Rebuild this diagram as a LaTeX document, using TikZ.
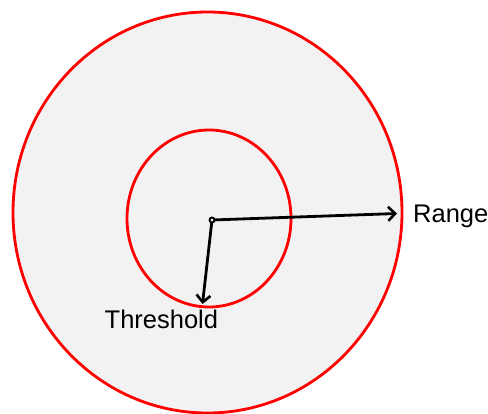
\documentclass[tikz,border=0pt]{standalone}
\usepackage{fontspec}
\setmainfont{Liberation Sans}
\usetikzlibrary{shapes.geometric,arrows.meta}
\definecolor{ringfill}{HTML}{F2F2F2}
\definecolor{ringred}{HTML}{FF0000}
\tikzset{
  ring/.style={ellipse, draw=ringred, line width=2.8pt, inner sep=0pt},
  radius arrow/.style={draw=black, line width=2.8pt, -{Straight Barb[length=7pt,width=14pt,line width=2.6pt]}},
  lbl/.style={font=\fontsize{25.5}{29}\selectfont, inner sep=0pt, anchor=base west},
}
\begin{document}
\begin{tikzpicture}[x=1pt,y=-1pt]
\useasboundingbox (0,0) rectangle (488,414);
\node[ring, fill=ringfill, minimum width=389pt, minimum height=401pt] (outer) at (207.5,212.5) {};
\node[ring, minimum width=164pt, minimum height=177pt] (inner) at (209,218.5) {};
\coordinate (c) at (212,220);
\coordinate (rangeend) at (397,213.5);
\coordinate (threshend) at (202.5,304);
\draw[radius arrow] (c) -- (rangeend);
\draw[radius arrow] (c) -- (threshend);
\node[circle, draw=black, fill=ringfill, line width=1.8pt, inner sep=0pt, minimum size=5pt] (dot) at (c) {};
\node[lbl] (range) at (413,222.5) {Range};
\node[lbl] (thresh) at (104.5,328.5) {Threshold};
\end{tikzpicture}
\end{document}
